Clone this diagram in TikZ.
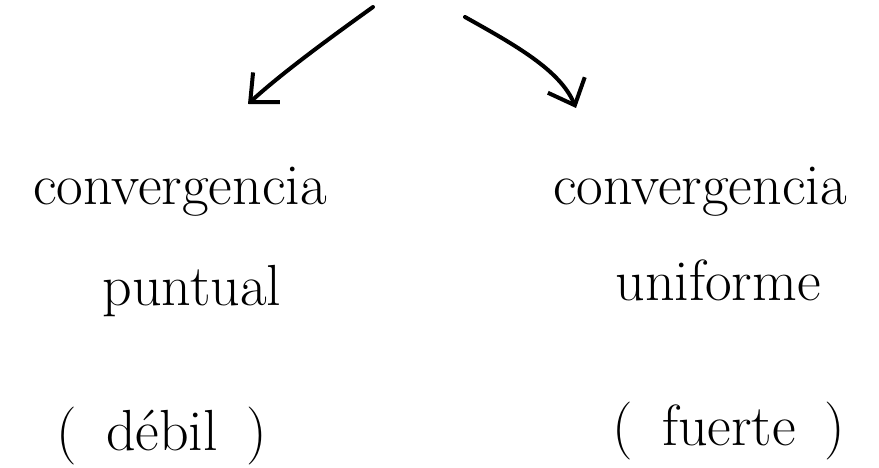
\documentclass[tikz,border=0pt]{standalone}
\usepackage{fontspec}
\usetikzlibrary{arrows.meta}
\begin{document}
\begin{tikzpicture}[x=1pt,y=-1pt,
  stroke/.style={line width=4pt,line cap=round,line join=round,-{Straight Barb[length=22pt,width=40pt,line width=4pt]}},
  label/.style={anchor=base,inner sep=0pt,font=\fontsize{58}{66}\selectfont\addfontfeatures{LetterSpace=6}}]
\useasboundingbox (0,0) rectangle (879,468);
\coordinate (s1) at (373,7);
\coordinate (e1) at (248,104);
\coordinate (s2) at (465,17);
\coordinate (e2) at (576,108);
\draw[stroke] (s1) .. controls (320,45) and (280,75) .. (e1);
\draw[stroke] (s2) .. controls (515,45) and (560,70) .. (e2);
\node[label] (l1) at (180,205) {convergencia};
\node[label] (l2) at (192,305) {puntual};
\node[label] (l3) at (162,450) {(\enspace débil\enspace)};
\node[label] (r1) at (700,205) {convergencia};
\node[label] (r2) at (718,300) {uniforme};
\node[label] (r3) at (729,445) {(\enspace fuerte\enspace)};
\end{tikzpicture}
\end{document}
